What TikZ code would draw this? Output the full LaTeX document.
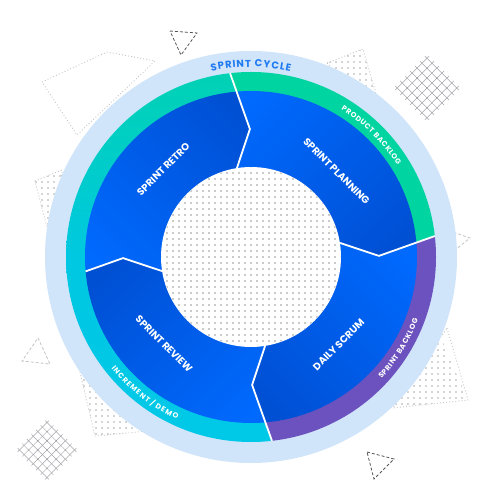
\documentclass[tikz,border=0pt]{standalone}
\usepackage{fontspec}
\setmainfont{Poppins}
\usetikzlibrary{decorations.text}
\definecolor{ringlight}{RGB}{208,228,250}
\definecolor{greenr}{RGB}{0,212,160}
\definecolor{purpler}{RGB}{108,82,190}
\definecolor{tealtop}{RGB}{0,210,178}
\definecolor{cyanmid}{RGB}{0,200,226}
\definecolor{cyanbot}{RGB}{0,200,232}
\definecolor{bluebright}{RGB}{0,106,255}
\definecolor{bluedark}{RGB}{0,80,212}
\definecolor{cycletext}{RGB}{30,122,240}
\definecolor{dotgray}{RGB}{150,150,150}
\definecolor{decogray}{RGB}{196,196,196}
\definecolor{dashdark}{RGB}{85,85,85}
\definecolor{hatchgray}{RGB}{165,165,170}
\newcommand{\segpoly}[2]{(0,0) -- (#1+9:90) -- (#1+0.5:128) -- (#1+6.5:185) -- (#1+6.5:192) arc[start angle=#1+6.5, end angle=#2+6.5, radius=192] -- (#2+6.5:185) -- (#2+0.5:128) -- (#2+9:90) -- cycle}
\newcommand{\hatchgrid}[4]{% x, y, spacing, half length
  \begin{scope}[shift={(#1,#2)}, rotate=45, hatchgray, line width=0.5pt]
    \foreach \k in {-3,...,3}{
      \draw (-#4,\k*#3) -- (#4,\k*#3);
      \draw (\k*#3,-#4) -- (\k*#3,#4);
    }
    \foreach \k/\m in {-2/-2,0/-2,2/-2,-1/-1,1/-1,-2/0,0/0,2/0,-1/1,1/1,0/2,-2/2,2/2}{\fill[black!50] (\k*#3,\m*#3) circle (0.65);}
  \end{scope}}
\tikzset{
  mainlabel/.style={text=white, font=\bfseries\fontsize{10}{11}\selectfont, inner sep=0pt},
  divider/.style={white, line width=1.8pt, line join=miter},
  dottedline/.style={decogray, line width=0.9pt, dash pattern=on 0.9pt off 2.2pt},
  darkdash/.style={dashdark, line width=0.8pt, dash pattern=on 3pt off 2pt},
  lightdash/.style={decogray, line width=0.8pt, dash pattern=on 3pt off 2pt}
}
\begin{document}
\begin{tikzpicture}[x=1pt,y=1pt]
\useasboundingbox (0,0) rectangle (500,500);
% ---------- background decorations ----------
\begin{scope}\clip (327,437) -- (363,451) -- (385,375) -- cycle;
  \foreach \i in {324,330,...,390}{\foreach \j in {372,378,...,456}{\fill[dotgray!80] (\i,\j) circle (0.8);}}
\end{scope}
\draw[dottedline] (327,437) -- (363,451) -- (385,375) -- cycle;
\begin{scope}\clip (35,319) -- (62,330) -- (56,238) -- cycle;
  \foreach \i in {30,36,...,66}{\foreach \j in {234,240,...,334}{\fill[dotgray!80] (\i,\j) circle (0.8);}}
\end{scope}
\draw[dottedline] (35,319) -- (62,330) -- (56,238) -- cycle;
\begin{scope}\clip (440,165) -- (468,100) -- (393,92) -- cycle;
  \foreach \i in {390,396,...,470}{\foreach \j in {90,96,...,170}{\fill[dotgray!80] (\i,\j) circle (0.8);}}
\end{scope}
\draw[dottedline] (447,172) -- (468,100) -- (393,92) -- cycle;
\begin{scope}\clip (70,170) -- (95,64) -- (180,72) -- cycle;
  \foreach \i in {66,72,...,180}{\foreach \j in {60,66,...,172}{\fill[dotgray!80] (\i,\j) circle (0.8);}}
\end{scope}
\draw[dottedline] (70,170) -- (95,64) -- (180,72) -- cycle;
\draw[dottedline] (42,418) -- (107,448) -- (155,439) -- (77,365) -- cycle;
\draw[darkdash] (170,469) -- (197,467) -- (181,445) -- cycle;
\draw[darkdash] (367,48) -- (394,41) -- (374,21) -- cycle;
\draw[lightdash] (38,162) -- (50,136) -- (22,139) -- cycle;
\draw[lightdash] (444,271) -- (470,262) -- (449,245) -- cycle;
\hatchgrid{427}{412}{7}{24}
\hatchgrid{47}{50}{6.5}{22}
% ---------- main wheel ----------
\begin{scope}[shift={(251,243)}]
  \fill[ringlight] (0,0) circle (206);
  \begin{scope}
    \clip (0,0) circle (185);
    \fill[greenr] \segpoly{90}{0};
    \fill[purpler] \segpoly{0}{-90};
    \shade[top color=tealtop, bottom color=cyanbot, middle color=cyanmid] \segpoly{270}{90};
  \end{scope}
  \begin{scope}
    \clip (0,0) circle (166);
    \shade[top color=bluebright, bottom color=bluedark, shading angle=45] \segpoly{90}{0};
    \shade[top color=bluebright, bottom color=bluedark, shading angle=-45] \segpoly{0}{-90};
    \shade[top color=bluebright, bottom color=bluedark, shading angle=225] \segpoly{270}{180};
    \shade[top color=bluebright, bottom color=bluedark, shading angle=135] \segpoly{180}{90};
  \end{scope}
  \fill[white] (0,0) circle (90);
  \begin{scope}
    \clip (0,0) circle (89.5);
    \foreach \i in {-15,...,15}{\foreach \j in {-15,...,15}{\fill[dotgray] (\i*6,\j*6) circle (0.9);}}
  \end{scope}
  \draw[divider] (96.5:185) -- (90.5:128) -- (99:90);
  \draw[divider] (6.5:185) -- (0.5:128) -- (9:90);
  \draw[divider] (-83.5:185) -- (-89.5:128) -- (-81:90);
  \draw[divider] (184.97:166) -- (180.5:128) -- (189:90);
  \node[mainlabel, rotate=45] (retro) at (135:124) {SPRINT RETRO};
  \node[mainlabel, rotate=-45] (planning) at (45:121) {SPRINT PLANNING};
  \node[mainlabel, rotate=45] (daily) at (-45:124) {DAILY SCRUM};
  \node[mainlabel, rotate=-45] (review) at (225:123) {SPRINT REVIEW};
  \path[decorate, decoration={text effects along path, text={SPRINT CYCLE},
      text effects/.cd, text along path, fit text to path,
      characters={text=cycletext, font=\bfseries\fontsize{10}{10}\selectfont}}]
    (102:190) arc[start angle=102, end angle=78, radius=190];
  \path[decorate, decoration={text effects along path, text={PRODUCT BACKLOG},
      text effects/.cd, text along path, fit text to path,
      characters={text=white, font=\bfseries\fontsize{7.3}{8}\selectfont}}]
    (58.5:172.5) arc[start angle=58.5, end angle=32, radius=172.5];
  \path[decorate, decoration={text effects along path, text={SPRINT BACKLOG},
      text effects/.cd, text along path, fit text to path,
      characters={text=white, font=\bfseries\fontsize{7.3}{8}\selectfont}}]
    (-43:178.5) arc[start angle=-43, end angle=-20.5, radius=178.5];
  \path[decorate, decoration={text effects along path, text={INCREMENT / DEMO},
      text effects/.cd, text along path, fit text to path,
      characters={text=white, font=\bfseries\fontsize{7.3}{8}\selectfont}}]
    (218.5:178.5) arc[start angle=218.5, end angle=245.5, radius=178.5];
\end{scope}
\end{tikzpicture}
\end{document}
